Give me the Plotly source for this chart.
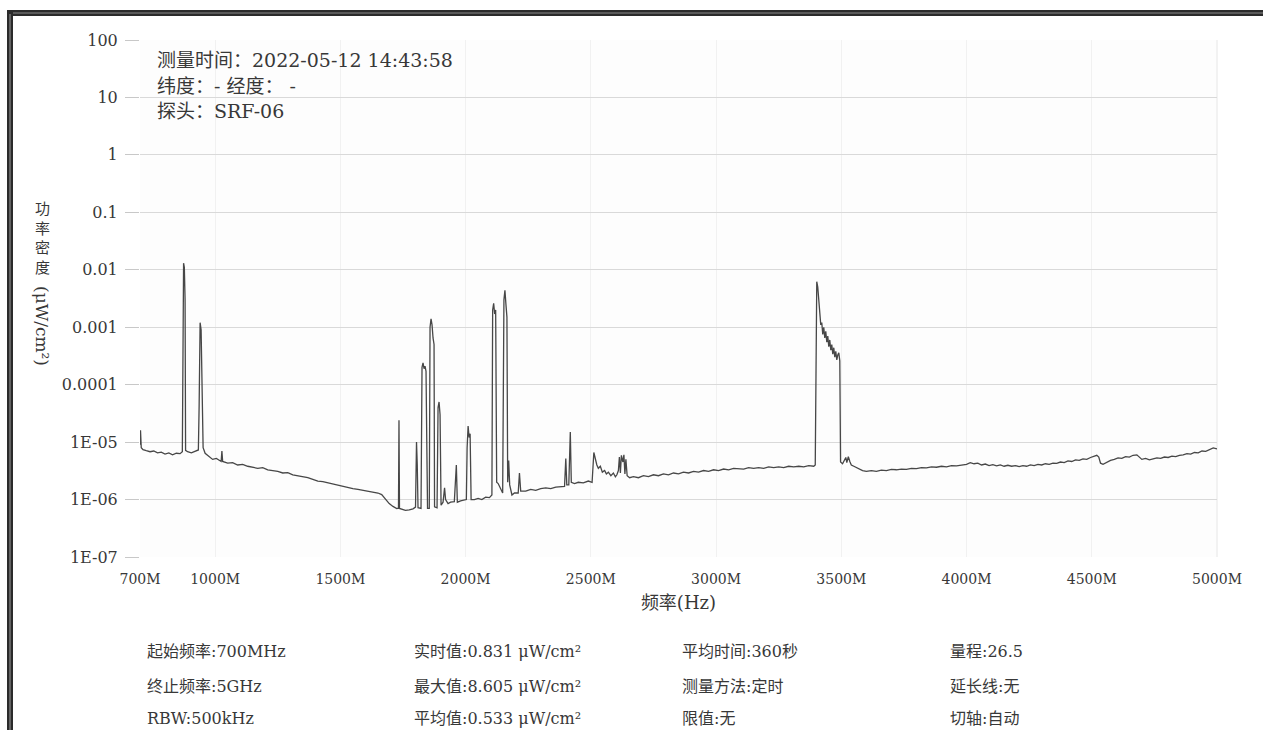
import plotly.graph_objects as go

# ── Spectrum trace (frequency in MHz, power density in µW/cm²) ────────────────
freq_mhz = [
    # 700 – 1030 MHz
    700, 702, 705, 712, 725, 740, 755, 770, 785, 800,
    815, 830, 845, 860, 869, 872, 874, 877, 880, 882,
    890, 905, 920, 933, 936, 940, 944, 948, 952, 960,
    975, 990, 1005, 1018, 1024, 1027, 1030,
    # 1050 – 1800 MHz
    1050, 1070, 1090, 1110, 1130, 1150, 1170, 1190, 1210, 1230,
    1250, 1270, 1290, 1310, 1330, 1350, 1370, 1390, 1410, 1430,
    1450, 1470, 1490, 1510, 1530, 1550, 1570, 1590, 1610, 1630,
    1650, 1665, 1680, 1695, 1710, 1725, 1732, 1734, 1736, 1745,
    1760, 1775, 1790, 1800,
    # 1800 – 2220 MHz
    1804, 1807, 1810, 1822, 1826, 1830, 1834, 1838, 1842, 1845,
    1848, 1855, 1858, 1862, 1866, 1870, 1874, 1876, 1886, 1890,
    1894, 1898, 1902, 1910, 1916, 1920, 1930, 1940, 1955, 1963,
    1967, 1980, 1995, 2003, 2006, 2010, 2014, 2018, 2022, 2035,
    2050, 2065, 2080, 2095, 2105, 2108, 2112, 2116, 2120, 2124,
    2130, 2140, 2148, 2153, 2157, 2161, 2165, 2168, 2172, 2176,
    2185, 2195, 2210, 2215, 2220,
    # 2240 – 3390 MHz
    2240, 2260, 2280, 2300, 2320, 2340, 2360, 2380, 2395, 2400,
    2404, 2412, 2418, 2422, 2435, 2450, 2470, 2490, 2505, 2512,
    2518, 2524, 2530, 2538, 2546, 2555, 2562, 2570, 2580, 2590,
    2598, 2604, 2610, 2614, 2618, 2622, 2628, 2632, 2636, 2640,
    2645, 2655, 2670, 2690, 2710, 2730, 2750, 2770, 2790, 2810,
    2830, 2850, 2870, 2890, 2910, 2930, 2950, 2970, 2990, 3010,
    3030, 3050, 3070, 3090, 3110, 3130, 3150, 3170, 3190, 3210,
    3230, 3250, 3270, 3290, 3310, 3330, 3350, 3370, 3390,
    # 3396 – 3600 MHz
    3396, 3399, 3402, 3406, 3410, 3414, 3418, 3422, 3426, 3430,
    3434, 3438, 3442, 3446, 3450, 3454, 3458, 3462, 3466, 3470,
    3474, 3478, 3482, 3486, 3490, 3494, 3497, 3505, 3512, 3518,
    3522, 3528, 3534, 3540, 3550, 3560, 3570, 3585, 3600,
    # 3620 – 5000 MHz
    3620, 3640, 3660, 3680, 3700, 3720, 3740, 3760, 3780, 3800,
    3820, 3840, 3860, 3880, 3900, 3920, 3940, 3960, 3980, 4000,
    4015, 4030, 4045, 4060, 4075, 4090, 4105, 4120, 4135, 4150,
    4165, 4180, 4195, 4210, 4225, 4240, 4255, 4270, 4285, 4300,
    4315, 4330, 4345, 4360, 4375, 4390, 4405, 4420, 4435, 4450,
    4465, 4480, 4495, 4510, 4520, 4528, 4535, 4545, 4560, 4575,
    4590, 4605, 4620, 4635, 4650, 4665, 4680, 4690, 4700, 4715,
    4730, 4745, 4760, 4775, 4790, 4805, 4820, 4835, 4850, 4865,
    4880, 4895, 4910, 4925, 4940, 4955, 4970, 4985, 5000,
]

density = [
    # 700 – 1030 MHz
    9.0e-6, 1.6e-5, 8.0e-6, 7.4e-6, 7.1e-6, 6.8e-6, 7.0e-6, 6.5e-6, 6.7e-6, 6.2e-6,
    6.5e-6, 6.0e-6, 6.4e-6, 6.3e-6, 6.8e-6, 2.0e-4, 1.3e-2, 1.1e-2, 3.0e-3, 7.2e-6,
    6.8e-6, 6.5e-6, 6.9e-6, 7.3e-6, 4.0e-5, 1.2e-3, 9.0e-4, 1.5e-4, 8.0e-6, 6.4e-6,
    5.6e-6, 5.0e-6, 5.2e-6, 4.7e-6, 4.6e-6, 7.0e-6, 4.6e-6,
    # 1050 – 1800 MHz
    4.3e-6, 4.4e-6, 4.0e-6, 4.1e-6, 3.8e-6, 3.7e-6, 3.5e-6, 3.6e-6, 3.3e-6, 3.2e-6,
    3.1e-6, 2.9e-6, 2.95e-6, 2.7e-6, 2.6e-6, 2.45e-6, 2.4e-6, 2.25e-6, 2.1e-6, 2.05e-6,
    1.95e-6, 1.85e-6, 1.8e-6, 1.7e-6, 1.62e-6, 1.55e-6, 1.5e-6, 1.45e-6, 1.4e-6, 1.35e-6,
    1.3e-6, 1.22e-6, 1.0e-6, 8.5e-7, 7.6e-7, 7.0e-7, 7.1e-7, 2.4e-5, 7.0e-7, 6.8e-7,
    6.5e-7, 6.6e-7, 6.9e-7, 7.4e-7,
    # 1800 – 2220 MHz
    1.0e-5, 4.0e-6, 7.2e-7, 7.0e-7, 2.0e-4, 2.4e-4, 1.9e-4, 2.1e-4, 1.7e-4, 1.0e-5,
    7.0e-7, 7.0e-7, 1.0e-3, 1.4e-3, 1.1e-3, 6.5e-4, 5.0e-4, 7.5e-7, 7.2e-7, 4.0e-5,
    5.0e-5, 3.0e-5, 8.0e-7, 9.0e-7, 1.6e-6, 1.0e-6, 8.5e-7, 9.0e-7, 9.2e-7, 4.0e-6,
    9.0e-7, 9.5e-7, 1.0e-6, 1.0e-6, 8.0e-6, 1.9e-5, 1.2e-5, 1.4e-5, 1.0e-6, 1.0e-6,
    1.05e-6, 1.0e-6, 1.1e-6, 1.08e-6, 1.2e-6, 2.0e-3, 2.6e-3, 1.7e-3, 2.0e-3, 2.0e-6,
    1.9e-6, 1.5e-6, 1.3e-6, 3.0e-3, 4.4e-3, 2.5e-3, 1.5e-3, 2.0e-6, 4.8e-6, 1.8e-6,
    1.2e-6, 1.3e-6, 1.3e-6, 2.9e-6, 1.4e-6,
    # 2240 – 3390 MHz
    1.4e-6, 1.5e-6, 1.45e-6, 1.55e-6, 1.6e-6, 1.55e-6, 1.65e-6, 1.7e-6, 1.7e-6, 5.2e-6,
    1.8e-6, 1.8e-6, 1.5e-5, 2.0e-6, 1.9e-6, 2.0e-6, 1.95e-6, 2.1e-6, 2.0e-6, 6.6e-6,
    5.0e-6, 4.0e-6, 3.5e-6, 3.8e-6, 3.0e-6, 3.2e-6, 2.8e-6, 3.0e-6, 2.6e-6, 2.9e-6,
    2.5e-6, 2.7e-6, 3.2e-6, 5.5e-6, 2.9e-6, 5.9e-6, 4.5e-6, 6.0e-6, 2.8e-6, 5.0e-6,
    2.6e-6, 2.4e-6, 2.5e-6, 2.4e-6, 2.6e-6, 2.5e-6, 2.7e-6, 2.6e-6, 2.8e-6, 2.7e-6,
    2.9e-6, 2.8e-6, 3.0e-6, 2.9e-6, 3.1e-6, 3.0e-6, 3.2e-6, 3.1e-6, 3.3e-6, 3.2e-6,
    3.4e-6, 3.3e-6, 3.5e-6, 3.4e-6, 3.4e-6, 3.6e-6, 3.5e-6, 3.6e-6, 3.5e-6, 3.7e-6,
    3.6e-6, 3.7e-6, 3.6e-6, 3.8e-6, 3.7e-6, 3.8e-6, 3.7e-6, 3.9e-6, 3.8e-6,
    # 3396 – 3600 MHz
    4.0e-6, 2.0e-3, 6.2e-3, 5.0e-3, 3.0e-3, 1.4e-3, 1.1e-3, 1.2e-3, 7.5e-4, 1.0e-3,
    6.5e-4, 8.5e-4, 5.5e-4, 7.0e-4, 4.6e-4, 6.0e-4, 4.0e-4, 5.0e-4, 3.4e-4, 4.4e-4,
    3.0e-4, 3.8e-4, 2.7e-4, 3.3e-4, 3.6e-4, 2.6e-4, 4.5e-6, 4.2e-6, 4.8e-6, 5.4e-6,
    4.4e-6, 5.6e-6, 4.6e-6, 4.0e-6, 3.8e-6, 3.6e-6, 3.4e-6, 3.2e-6, 3.1e-6,
    # 3620 – 5000 MHz
    3.2e-6, 3.1e-6, 3.25e-6, 3.2e-6, 3.35e-6, 3.3e-6, 3.4e-6, 3.35e-6, 3.5e-6, 3.45e-6,
    3.6e-6, 3.55e-6, 3.7e-6, 3.65e-6, 3.8e-6, 3.7e-6, 3.9e-6, 3.85e-6, 4.0e-6, 4.1e-6,
    4.4e-6, 4.2e-6, 4.3e-6, 4.0e-6, 4.15e-6, 3.9e-6, 4.05e-6, 3.85e-6, 4.0e-6, 3.8e-6,
    3.95e-6, 3.8e-6, 3.9e-6, 3.75e-6, 3.9e-6, 3.8e-6, 4.0e-6, 3.9e-6, 4.1e-6, 4.0e-6,
    4.2e-6, 4.1e-6, 4.3e-6, 4.25e-6, 4.5e-6, 4.4e-6, 4.7e-6, 4.6e-6, 4.9e-6, 4.8e-6,
    5.1e-6, 5.0e-6, 5.4e-6, 5.6e-6, 5.9e-6, 5.5e-6, 4.3e-6, 4.1e-6, 4.5e-6, 4.8e-6,
    5.0e-6, 5.3e-6, 5.2e-6, 5.6e-6, 5.5e-6, 5.9e-6, 6.0e-6, 5.4e-6, 5.0e-6, 5.2e-6,
    4.9e-6, 5.1e-6, 5.3e-6, 5.2e-6, 5.5e-6, 5.4e-6, 5.7e-6, 5.6e-6, 5.9e-6, 6.0e-6,
    6.3e-6, 6.2e-6, 6.6e-6, 6.5e-6, 7.0e-6, 6.9e-6, 7.4e-6, 7.9e-6, 7.6e-6,
]

# ── Axes ───────────────────────────────────────────────────────────────────────
x_tick_vals = [700, 1000, 1500, 2000, 2500, 3000, 3500, 4000, 4500, 5000]
x_tick_text = ["700M", "1000M", "1500M", "2000M", "2500M",
               "3000M", "3500M", "4000M", "4500M", "5000M"]
y_tick_vals = [1e-7, 1e-6, 1e-5, 1e-4, 1e-3, 1e-2, 1e-1, 1, 10, 100]
y_tick_text = ["1E-07", "1E-06", "1E-05", "0.0001", "0.001",
               "0.01", "0.1", "1", "10", "100"]
x_title = "频率(Hz)"
y_title_cjk = "功率密度"
y_title_unit = "(μW/cm²)"

# ── Header and footer text ─────────────────────────────────────────────────────
info_lines = [
    "测量时间：2022-05-12 14:43:58",
    "纬度：- 经度： -",
    "探头：SRF-06",
]
footer_columns = [
    ["起始频率:700MHz", "终止频率:5GHz", "RBW:500kHz"],
    ["实时值:0.831 μW/cm²", "最大值:8.605 μW/cm²", "平均值:0.533 μW/cm²"],
    ["平均时间:360秒", "测量方法:定时", "限值:无"],
    ["量程:26.5", "延长线:无", "切轴:自动"],
]

# ── Geometry (page pixels; body margin is removed after plotting) ──────────────
W, H = 1263, 730
PL, PR, PT, PB = 140, 1217, 40, 557
FONT = "DejaVu Serif, Noto Sans CJK SC, sans-serif"
INK = "#383838"


def px_x(px):
    return (px - PL) / (PR - PL)


def px_y(py):
    return (PB - py) / (PB - PT)


fig = go.Figure()
fig.add_trace(go.Scatter(
    x=freq_mhz, y=density, mode="lines",
    line=dict(color="#474747", width=1.3),
    showlegend=False,
))

annotations = []
for i, line in enumerate(info_lines):
    annotations.append(dict(
        x=px_x(155), y=px_y(60 + 25.5 * i), xref="paper", yref="paper",
        xanchor="left", yanchor="middle", text=line, showarrow=False,
        font=dict(family=FONT, size=19, color=INK),
    ))

col_x = [145, 412, 680, 948]
row_y = [651, 686, 718]
for cx, col in zip(col_x, footer_columns):
    for ry, txt in zip(row_y, col):
        annotations.append(dict(
            x=px_x(cx), y=px_y(ry), xref="paper", yref="paper",
            xanchor="left", yanchor="middle", text=txt, showarrow=False,
            font=dict(family=FONT, size=16, color=INK),
        ))

# vertical y-axis title: upright CJK characters stacked, then the rotated unit
annotations.append(dict(
    x=px_x(42), y=px_y(238), xref="paper", yref="paper",
    xanchor="center", yanchor="middle", showarrow=False,
    text="<br>".join(y_title_cjk),
    font=dict(family=FONT, size=15, color=INK),
))
annotations.append(dict(
    x=px_x(42), y=px_y(326), xref="paper", yref="paper",
    xanchor="center", yanchor="middle", showarrow=False, textangle=90,
    text=y_title_unit,
    font=dict(family=FONT, size=17, color=INK),
))

shapes = [
    # scanned page frame, top and left
    dict(type="rect", xref="paper", yref="paper",
         x0=px_x(7), x1=px_x(W), y0=px_y(10), y1=px_y(16),
         fillcolor="#2b2b2b", line_width=0, layer="above"),
    dict(type="line", xref="paper", yref="paper",
         x0=px_x(12), x1=px_x(W), y0=px_y(13), y1=px_y(13),
         line=dict(color="#8a8a8a", width=1.2), layer="above"),
    dict(type="rect", xref="paper", yref="paper",
         x0=px_x(7), x1=px_x(13), y0=px_y(10), y1=px_y(H),
         fillcolor="#2b2b2b", line_width=0, layer="above"),
    dict(type="line", xref="paper", yref="paper",
         x0=px_x(10), x1=px_x(10), y0=px_y(14), y1=px_y(H),
         line=dict(color="#8a8a8a", width=1.2), layer="above"),
    # right edge of the plot area
    dict(type="line", xref="paper", yref="paper",
         x0=1, x1=1, y0=0, y1=1,
         line=dict(color="#e6e6e6", width=1), layer="below"),
]

fig.update_layout(
    width=W, height=H,
    margin=dict(l=PL, r=W - PR, t=PT, b=H - PB),
    paper_bgcolor="#ffffff",
    plot_bgcolor="#fdfdfd",
    font=dict(family=FONT, color=INK),
    annotations=annotations,
    shapes=shapes,
    xaxis=dict(
        range=[700, 5000], tickvals=x_tick_vals, ticktext=x_tick_text,
        showgrid=True, gridcolor="#f1f1f1", gridwidth=1,
        zeroline=False, showline=False, ticks="",
        ticklabelstandoff=12,
        tickfont=dict(family=FONT, size=14, color=INK),
        title=dict(text=x_title, standoff=10,
                   font=dict(family=FONT, size=18, color=INK)),
    ),
    yaxis=dict(
        type="log", range=[-7, 2], tickvals=y_tick_vals, ticktext=y_tick_text,
        showgrid=True, gridcolor="#d9d9d9", gridwidth=1,
        zeroline=False, showline=False,
        ticks="outside", ticklen=14, tickcolor="#c8c8c8", tickwidth=1,
        ticklabelstandoff=4,
        tickfont=dict(family=FONT, size=16, color=INK),
    ),
)

fig.write_html(
    "out.html",
    config={"displayModeBar": False},
    post_script="document.body.style.margin='0';document.body.style.overflow='hidden';",
)
